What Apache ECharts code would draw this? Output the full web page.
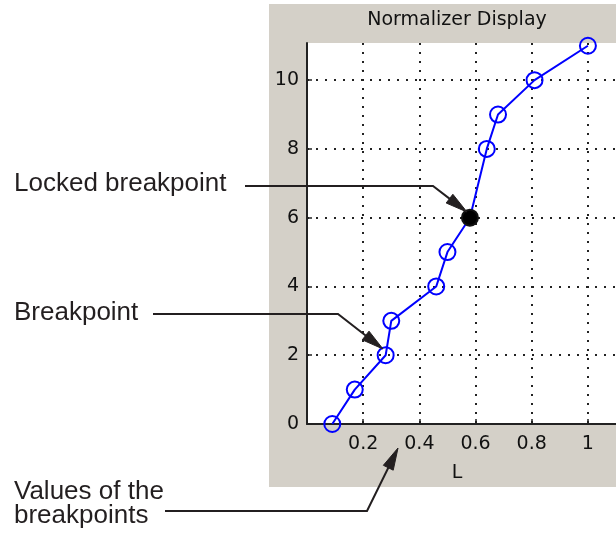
<!DOCTYPE html>
<html><head><meta charset="utf-8">
<script src="https://cdn.jsdelivr.net/npm/echarts@6/dist/echarts.min.js"></script>
<style>html,body{margin:0;padding:0;background:#fff}#c{width:616px;height:537px}</style>
</head><body><div id="c"></div><script>
// breakpoint data (x = values of L, y = breakpoint index)
const lValues = [0.09, 0.17, 0.28, 0.30, 0.46, 0.50, 0.58, 0.64, 0.68, 0.81, 1.00];
const bpValues = [0, 1, 2, 3, 4, 5, 6, 8, 9, 10, 11];
const lockedIndex = 6;
const xTicks = [0.2, 0.4, 0.6, 0.8, 1];
const yTicks = [0, 2, 4, 6, 8, 10];
const titleText = 'Normalizer Display';
const xName = 'L';

const chart = echarts.init(document.getElementById('c'), null, {renderer: 'canvas'});
const axisFont = 'DejaVu Sans';
const annFont = 'Liberation Sans';
const annColor = '#231f20';

const seriesData = lValues.map((x, i) => {
  const item = {value: [x, bpValues[i]]};
  if (i === lockedIndex) item.itemStyle = {color: '#000', borderColor: '#111'};
  return item;
});

function arrow(start, bend, tip) {
  const dx = tip[0] - bend[0], dy = tip[1] - bend[1];
  const len = Math.hypot(dx, dy), ux = dx / len, uy = dy / len;
  const hl = 22, hw = 5.5;
  const bx = tip[0] - ux * hl, by = tip[1] - uy * hl;
  return [
    {type: 'polyline', z: 100, shape: {points: [start, bend, [bx + ux * 2, by + uy * 2]]},
     style: {stroke: annColor, lineWidth: 2, fill: null}},
    {type: 'polygon', z: 100, shape: {points: [tip, [bx - uy * hw, by + ux * hw], [bx + uy * hw, by - ux * hw]]},
     style: {fill: annColor, stroke: annColor, lineWidth: 1}}
  ];
}

const annText = (t, x, y) => ({type: 'text', z: 100, x, y,
  style: {text: t, font: '26px "' + annFont + '"', fill: annColor, verticalAlign: 'middle', align: 'left'}});

const graphics = [
  {type: 'rect', z: -100, shape: {x: 269, y: 4, width: 360, height: 483}, style: {fill: '#d4d0c8'}},
  {type: 'text', z: 50, x: 457, y: 20, style: {text: titleText, font: '19px "' + axisFont + '"', fill: '#111', align: 'center', verticalAlign: 'middle'}},
  annText('Locked breakpoint', 14, 184),
  annText('Breakpoint', 14, 313),
  annText('Values of the', 14, 492),
  annText('breakpoints', 14, 516),
  ...arrow([245, 186], [433, 186], [467, 212]),
  ...arrow([153, 314], [338, 314], [383, 349]),
  ...arrow([165, 511], [367, 511], [398, 448])
];

const axisLine = {show: true, lineStyle: {color: '#222', width: 2}};
const tickStyle = {color: '#222', width: 1.5};
const splitLine = {show: true, lineStyle: {color: '#222', width: 2, type: [2, 7]}};
const labelStyle = {fontFamily: axisFont, fontSize: 19, color: '#111'};

chart.setOption({
  animation: false,
  backgroundColor: '#fff',
  graphic: graphics,
  grid: {left: 307, top: 43, width: 311, height: 381, show: true, backgroundColor: '#fff', borderWidth: 0, containLabel: false},
  xAxis: {
    type: 'value', min: 0, max: 1.1, interval: 0.2,
    name: xName, nameLocation: 'middle', nameGap: 40,
    nameTextStyle: Object.assign({padding: [0, 9, 0, 0]}, labelStyle),
    axisLine,
    axisTick: {show: true, inside: true, length: 5, lineStyle: tickStyle, customValues: xTicks},
    splitLine,
    axisLabel: Object.assign({customValues: xTicks, margin: 11}, labelStyle)
  },
  yAxis: {
    type: 'value', min: 0, max: 11.08, interval: 2,
    axisLine,
    axisTick: {show: true, inside: true, length: 5, lineStyle: tickStyle, customValues: yTicks},
    splitLine,
    axisLabel: Object.assign({customValues: yTicks, margin: 8}, labelStyle)
  },
  series: [{
    type: 'line', data: seriesData, symbol: 'circle', symbolSize: 16, showSymbol: true,
    lineStyle: {color: '#0000ff', width: 2},
    itemStyle: {color: 'rgba(0,0,0,0)', borderColor: '#0000ff', borderWidth: 2},
    emphasis: {disabled: true}, z: 10
  }]
});
</script></body></html>
